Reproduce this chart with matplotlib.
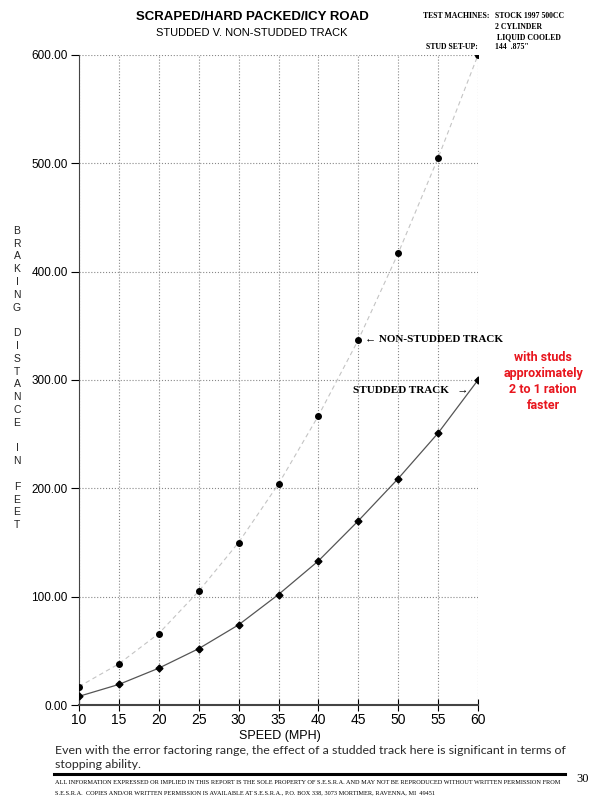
import matplotlib
matplotlib.use('Agg')
import matplotlib.pyplot as plt

# braking distance (feet) versus speed (mph)
speed = [10, 15, 20, 25, 30, 35, 40, 45, 50, 55, 60]
non_studded = [17, 38, 66, 105, 150, 204, 267, 337, 417, 505, 600]
studded = [8, 19, 34, 52, 74, 102, 133, 170, 209, 251, 300]
y_ticks = [0, 100, 200, 300, 400, 500, 600]

W, H = 600, 800


def pos(x, y):
    # pixel position -> figure fraction
    return x / W, 1 - y / H


fig = plt.figure(figsize=(6, 8), dpi=100)
ax = fig.add_axes([79 / W, 95 / H, 399 / W, 650 / H])

ax.plot(speed, non_studded, color='#c4c4c4', lw=0.8, ls=(0, (4, 3)), zorder=2)
ax.plot(speed, non_studded, 'o', color='black', ms=4, zorder=3)
ax.plot(speed, studded, color='#555555', lw=0.9, zorder=2)
ax.plot(speed, studded, 'D', color='black', ms=3.5, zorder=3)

ax.set_xlim(10, 60)
ax.set_ylim(0, 600)
ax.set_xticks(speed)
ax.set_yticks(y_ticks)
ax.set_yticklabels(['%.2f' % v for v in y_ticks])
ax.grid(True, ls=':', color='#888888', lw=0.8)
for s in ['top', 'right']:
    ax.spines[s].set_visible(False)
ax.spines['left'].set_color('#444444')
ax.spines['bottom'].set_color('#444444')
ax.spines['bottom'].set_linewidth(1.5)
ax.tick_params(axis='y', direction='out', length=6, labelsize=8.5, pad=2)
ax.tick_params(axis='x', direction='inout', length=8, labelsize=10, pad=2)
for lab in ax.get_xticklabels() + ax.get_yticklabels():
    lab.set_family('Liberation Sans')

# annotations on the chart
ax.annotate('\u2190 NON-STUDDED TRACK', xy=(45, 337), xytext=(45.8, 337),
            va='center', ha='left', fontsize=8, fontweight='bold',
            family='Liberation Serif')
ax.text(44.3, 290, 'STUDDED TRACK   \u2192', va='center', ha='left',
        fontsize=8, fontweight='bold', family='Liberation Serif')

# titles
fig.text(*pos(252, 17), 'SCRAPED/HARD PACKED/ICY ROAD', ha='center', va='center',
         fontsize=9.5, fontweight='bold', family='Liberation Sans')
fig.text(*pos(252, 33), 'STUDDED V. NON-STUDDED TRACK', ha='center', va='center',
         fontsize=8, family='Liberation Sans')

serif = dict(fontsize=5.6, fontweight='bold', family='Liberation Serif', va='center')
fig.text(*pos(423, 16), 'TEST MACHINES:', **serif)
fig.text(*pos(495, 16), 'STOCK 1997 500CC', **serif)
fig.text(*pos(495, 27), '2 CYLINDER', **serif)
fig.text(*pos(497, 37), 'LIQUID COOLED', **serif)
fig.text(*pos(426, 47), 'STUD SET-UP:', **serif)
fig.text(*pos(495, 47), '144  .875"', **serif)

# vertical axis label, one letter per line
label = 'BRAKING DISTANCE IN FEET'
fig.text(*pos(17, 378), '\n'.join(label), ha='center', va='center',
         fontsize=7.5, family='Liberation Sans', linespacing=1.35, color='#222222')

fig.text(*pos(280, 736), 'SPEED (MPH)', ha='center', va='center',
         fontsize=9, family='Liberation Sans')

fig.text(*pos(543, 381), 'with studs\napproximately\n2 to 1 ration\nfaster',
         ha='center', va='center', color='#e8161e', fontsize=9,
         fontweight='bold', family='Roboto', linespacing=1.3)

fig.text(*pos(55, 750), 'Even with the error factoring range, the effect of a studded '
         'track here is significant in terms of', va='center', fontsize=8.9,
         family='Lato', color='#2a2a2a')
fig.text(*pos(55, 765), 'stopping ability.', va='center', fontsize=8.9,
         family='Lato', color='#2a2a2a')

fig.add_artist(plt.Line2D([54 / W, 565 / W], [1 - 774 / H, 1 - 774 / H],
                          color='black', lw=2.2))
fig.text(*pos(55, 782), 'ALL INFORMATION EXPRESSED OR IMPLIED IN THIS REPORT IS THE SOLE '
         'PROPERTY OF S.E.S.R.A. AND MAY NOT BE REPRODUCED WITHOUT WRITTEN PERMISSION FROM',
         va='center', fontsize=4.5, family='Liberation Serif')
fig.text(*pos(55, 793), 'S.E.S.R.A.  COPIES AND/OR WRITTEN PERMISSION IS AVAILABLE AT '
         'S.E.S.R.A., P.O. BOX 338, 3073 MORTIMER, RAVENNA, MI  49451',
         va='center', fontsize=4.5, family='Liberation Serif')
fig.text(*pos(576, 779), '30', va='center', fontsize=9, family='Liberation Serif')

plt.savefig('out.png', dpi=100)
